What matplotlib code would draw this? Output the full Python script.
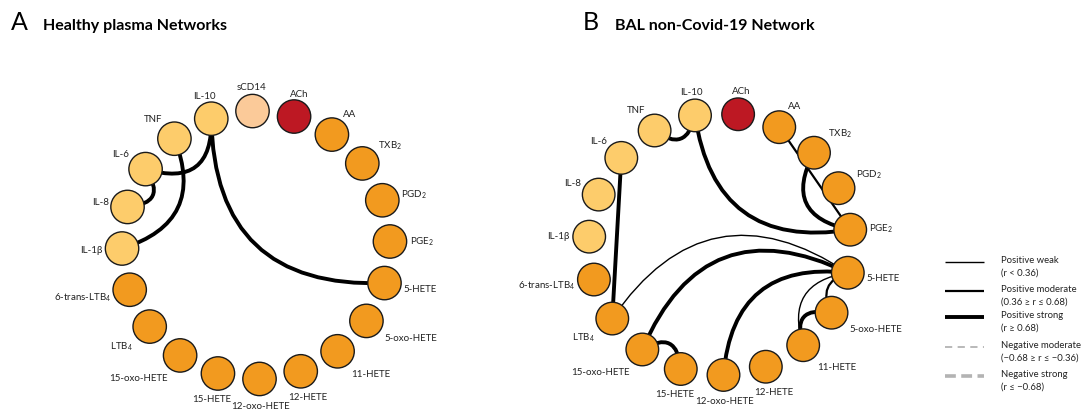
import numpy as np
import matplotlib
matplotlib.use("Agg")
import matplotlib.pyplot as plt
from matplotlib.path import Path
from matplotlib.patches import Circle, PathPatch

plt.rcParams['font.family'] = ['Lato', 'DejaVu Sans']
plt.rcParams['mathtext.default'] = 'regular'

# node order (clockwise from the top-left cytokine)
nodes_a = ['IL-10', 'sCD14', 'ACh', 'AA', 'TXB2', 'PGD2', 'PGE2', '5-HETE',
           '5-oxo-HETE', '11-HETE', '12-HETE', '12-oxo-HETE', '15-HETE',
           '15-oxo-HETE', 'LTB4', '6-trans-LTB4', 'IL-1b', 'IL-8', 'IL-6', 'TNF']
nodes_b = ['IL-10', 'ACh', 'AA', 'TXB2', 'PGD2', 'PGE2', '5-HETE',
           '5-oxo-HETE', '11-HETE', '12-HETE', '12-oxo-HETE', '15-HETE',
           '15-oxo-HETE', 'LTB4', '6-trans-LTB4', 'IL-1b', 'IL-8', 'IL-6', 'TNF']

# correlations (source, target, strength)
edges_a = [('IL-10', '5-HETE', 'strong'),
           ('IL-10', 'IL-6', 'strong'),
           ('TNF', 'IL-1b', 'strong'),
           ('IL-6', 'IL-8', 'strong')]
edges_b = [('TNF', 'IL-10', 'strong'),
           ('IL-10', 'PGE2', 'strong'),
           ('AA', 'PGE2', 'moderate'),
           ('TXB2', 'PGE2', 'strong'),
           ('IL-6', 'LTB4', 'strong'),
           ('LTB4', '5-HETE', 'weak'),
           ('15-oxo-HETE', '5-HETE', 'strong'),
           ('15-oxo-HETE', '15-HETE', 'strong'),
           ('12-oxo-HETE', '5-HETE', 'strong'),
           ('5-HETE', '11-HETE', 'weak'),
           ('5-HETE', '5-oxo-HETE', 'moderate'),
           ('5-oxo-HETE', '11-HETE', 'strong')]

legend_labels = ['Positive weak\n(r < 0.36)',
                 'Positive moderate\n(0.36 \u2265 r \u2264 0.68)',
                 'Positive strong\n(r \u2265 0.68)',
                 'Negative moderate\n(\u22120.68 \u2265 r \u2264 \u22120.36)',
                 'Negative strong\n(r \u2264 \u22120.68)']

# ---- styles ----
display = {'TXB2': 'TXB$_2$', 'PGD2': 'PGD$_2$', 'PGE2': 'PGE$_2$',
           'LTB4': 'LTB$_4$', '6-trans-LTB4': '6-trans-LTB$_4$', 'IL-1b': 'IL-1\u03b2'}
cytokine_col = '#fdcc6b'
lipid_col = '#f29a1f'
special_col = {'ACh': '#bd1823', 'sCD14': '#fbca99'}
widths = {'weak': 1.0, 'moderate': 1.6, 'strong': 2.8}
# how far each edge bows towards the ring centre (quadratic control point)
bend_a = {('IL-10', '5-HETE'): 2.0, ('IL-10', 'IL-6'): 0.45,
          ('TNF', 'IL-1b'): 0.55, ('IL-6', 'IL-8'): 0.27}
bend_b = {('TNF', 'IL-10'): 0.26, ('IL-10', 'PGE2'): 1.1, ('AA', 'PGE2'): 0.0,
          ('TXB2', 'PGE2'): 0.46, ('IL-6', 'LTB4'): 0.0, ('LTB4', '5-HETE'): 2.25,
          ('15-oxo-HETE', '5-HETE'): 1.6, ('15-oxo-HETE', '15-HETE'): 0.27,
          ('12-oxo-HETE', '5-HETE'): 0.8, ('5-HETE', '11-HETE'): 0.4,
          ('5-HETE', '5-oxo-HETE'): 0.2, ('5-oxo-HETE', '11-HETE'): 0.28}


def node_color(n):
    if n in special_col:
        return special_col[n]
    if n.startswith('IL') or n == 'TNF':
        return cytokine_col
    return lipid_col


def draw_network(ax, nodes, edges, bends, center, R, start_deg, r_node):
    cx, cy = center
    c0 = np.array(center, dtype=float)
    ang = np.deg2rad(start_deg - 360.0 / len(nodes) * np.arange(len(nodes)))
    pos = {n: (cx + R * np.cos(t), cy - R * np.sin(t)) for n, t in zip(nodes, ang)}
    theta = dict(zip(nodes, ang))

    for s, t, k in edges:
        p0 = np.array(pos[s]); p2 = np.array(pos[t])
        mid = (p0 + p2) / 2
        p1 = mid + bends[(s, t)] * (c0 - mid)
        path = Path([p0, p1, p2], [Path.MOVETO, Path.CURVE3, Path.CURVE3])
        ax.add_patch(PathPatch(path, fc='none', ec='black', lw=widths[k],
                               capstyle='round', zorder=1))

    for n in nodes:
        x, y = pos[n]
        ax.add_patch(Circle((x, y), r_node, fc=node_color(n), ec='#1a1a1a',
                            lw=1.0, zorder=2))
        th = theta[n]
        c, s = np.cos(th), np.sin(th)
        gap = r_node + (5 if s < -0.35 else 3)
        ha = 'left' if c > 0.35 else ('right' if c < -0.35 else 'center')
        va = 'bottom' if s > 0.35 else ('top' if s < -0.35 else 'center')
        ax.text(x + gap * c, y - gap * s, display.get(n, n), ha=ha, va=va,
                fontsize=7, color='#222222', zorder=3)


fig = plt.figure(figsize=(10.9, 4.14), dpi=100)
ax = fig.add_axes([0, 0, 1, 1])
ax.set_xlim(0, 1090)
ax.set_ylim(414, 0)
ax.axis('off')

draw_network(ax, nodes_a, edges_a, bend_a, (256, 246), 134, 109.5, 16.7)
draw_network(ax, nodes_b, edges_b, bend_b, (720, 245), 131, 101, 16.3)

# panel titles
ax.text(11, 30, 'A', fontsize=18, va='baseline', ha='left')
ax.text(43, 30, 'Healthy plasma Networks', fontsize=11.5, fontweight='bold',
        va='baseline', ha='left')
ax.text(583, 30, 'B', fontsize=18, va='baseline', ha='left')
ax.text(615, 30, 'BAL non-Covid-19 Network', fontsize=11.5, fontweight='bold',
        va='baseline', ha='left')

# legend
leg_y = [262.7, 291.7, 318, 348, 376.7]
leg_style = [dict(color='black', lw=1.0, ls='-'),
             dict(color='black', lw=1.6, ls='-'),
             dict(color='black', lw=2.8, ls='-'),
             dict(color='#b3b3b3', lw=1.3, ls=(0, (4, 3))),
             dict(color='#b3b3b3', lw=2.6, ls=(0, (3, 1.5)))]
for y, lab, st in zip(leg_y, legend_labels, leg_style):
    ax.plot([945, 984], [y, y], solid_capstyle='butt', dash_capstyle='butt', **st)
    ax.text(1001, y + 4, lab, fontsize=6.8, va='center', ha='left',
            linespacing=1.5, color='#222222')

fig.savefig('out.png', dpi=100)
